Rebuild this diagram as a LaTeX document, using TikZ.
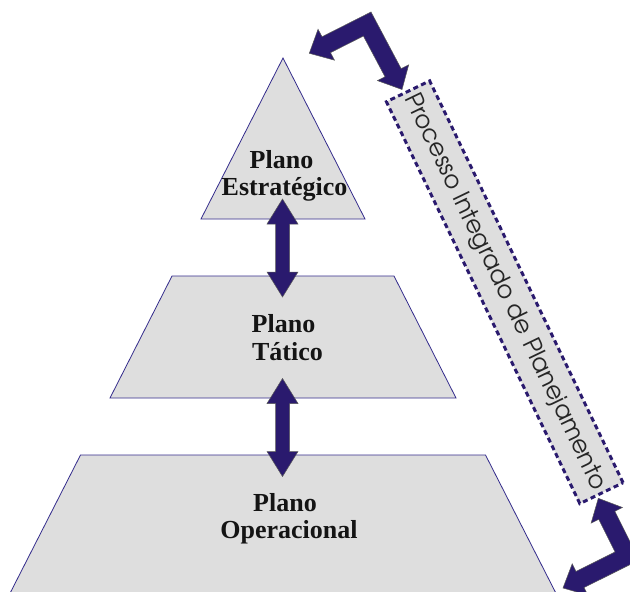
\documentclass[tikz,border=0pt]{standalone}
\usepackage{graphicx}
\usepackage{fontspec}
\setmainfont{Liberation Serif}
\newfontfamily\gothic{texgyreadventor-regular.otf}
\usetikzlibrary{calc}
\definecolor{navy}{RGB}{42,26,110}
\definecolor{edgeblue}{RGB}{52,44,140}
\definecolor{plane}{RGB}{222,222,222}
% fat elbow arrow: #1 corner, #2 first tip, #3 second tip
\newcommand\elbowarrow[3]{%
  \coordinate (Ia) at ($(#1)!9pt!(#2)$);
  \coordinate (Ib) at ($(#1)!9pt!(#3)$);
  \coordinate (Ha) at ($(#1)!17.5pt!(#2)$);
  \coordinate (Hb) at ($(#1)!17.5pt!(#3)$);
  \coordinate (Ba) at ($(#2)!19pt!(#1)$);
  \coordinate (Bb) at ($(#3)!19pt!(#1)$);
  \path[fatarrow] ($(#1)-(Ia)-(Ib)+(#1)+(#1)$)
    -- ($(Ba)-(Ib)+(#1)$) -- ($(Ba)-(Hb)+(#1)$) -- (#2)
    -- ($(Ba)+(Hb)-(#1)$) -- ($(Ba)+(Ib)-(#1)$)
    -- ($(Ia)+(Ib)-(#1)$)
    -- ($(Bb)+(Ia)-(#1)$) -- ($(Bb)+(Ha)-(#1)$) -- (#3)
    -- ($(Bb)-(Ha)+(#1)$) -- ($(Bb)-(Ia)+(#1)$) -- cycle;}
\begin{document}
\begin{tikzpicture}[x=1pt,y=-1pt,
  level/.style={fill=plane, draw=edgeblue, line width=0.8pt, line join=miter},
  fatarrow/.style={fill=navy, draw=gray!70!black, line width=0.5pt, line join=miter},
  lbl/.style={font=\fontsize{26}{27}\selectfont\bfseries, text=black!92, inner sep=0pt, anchor=base},
  procbox/.style={draw=navy, fill=plane, line width=3pt, dash pattern=on 5pt off 3.5pt,
    minimum width=446pt, minimum height=48pt, inner sep=0pt, rotate=-64.3},
  vdarrow/.pic={\path[fatarrow] (0,-49) -- (15.5,-24) -- (7,-24) -- (7,24) -- (15.5,24) -- (0,49)
     -- (-15.5,24) -- (-7,24) -- (-7,-24) -- (-15.5,-24) -- cycle;}
]
\clip (0,0) rectangle (630,592);
\fill[white] (0,0) rectangle (630,592);
% pyramid levels
\path[level] (283,58) -- (365,219) -- (201,219) -- cycle;
\path[level] (172,276) -- (394,276) -- (456,398) -- (110,398) -- cycle;
\path[level] (80.5,455) -- (485.5,455) -- (559.4,600) -- (6.6,600) -- cycle;
% labels
\node[lbl] (e1) at (281.5,168) {Plano};
\node[lbl] (e2) at (284.5,195) {Estratégico};
\node[lbl] (t1) at (283.5,332.7) {Plano};
\node[lbl] (t2) at (287.5,360) {Tático};
\node[lbl] (o1) at (285,511.7) {Plano};
\node[lbl] (o2) at (289,538) {Operacional};
% vertical double arrows
\pic (a1) at (282.5,248) {vdarrow};
\pic (a2) at (282.5,427.5) {vdarrow};
% process box
\node[procbox] (pip) at (504.75,292.25)
  {\resizebox{436pt}{!}{\color{black!85}\gothic Processo Integrado de Planejamento}};
% elbow arrows
\coordinate (c1) at (367.2,24);
\coordinate (c1a) at (309.3,53.3);
\coordinate (c1b) at (402,89.5);
\elbowarrow{c1}{c1a}{c1b}
\coordinate (c2) at (627.1,556);
\coordinate (c2a) at (598.3,498.3);
\coordinate (c2b) at (563,588);
\elbowarrow{c2}{c2a}{c2b}
\end{tikzpicture}
\end{document}
